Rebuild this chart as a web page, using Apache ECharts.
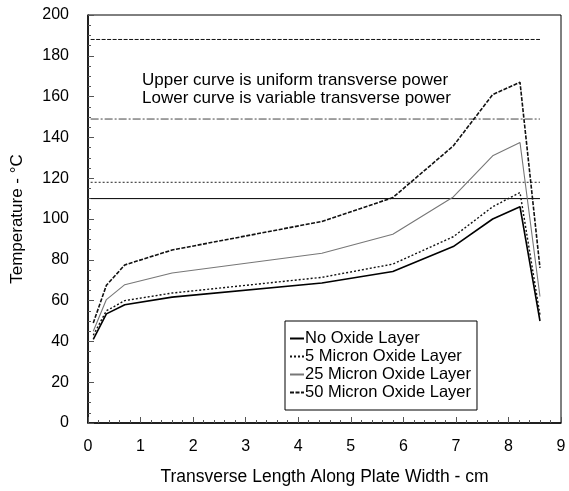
<!DOCTYPE html>
<html>
<head>
<meta charset="utf-8">
<script src="https://cdn.jsdelivr.net/npm/echarts@6/dist/echarts.min.js"></script>
<style>
html, body { margin: 0; padding: 0; background: #fff; }
#chart { width: 569px; height: 491px; }
</style>
</head>
<body>
<div id="chart"></div>
<script>
// positions along the plate width (cm)
var xPos = [0.1, 0.35, 0.7, 1.6, 4.45, 5.8, 6.95, 7.7, 8.22, 8.6];
// variable transverse power (lower curves)
var noOxide   = [41, 53.5, 58, 61.7, 68.6, 74.3, 86.5, 100, 106, 50];
var micron5   = [43, 55, 60, 63.7, 71.4, 77.9, 91.3, 106, 113, 53];
var micron25  = [45, 60.5, 67.8, 73.5, 83.2, 92.5, 110.8, 131, 137.5, 62];
var micron50  = [49, 67.5, 77.5, 84.8, 98.8, 110.5, 135.8, 161, 167, 76];
// uniform transverse power (upper, flat curves)
var uniformX  = [0.05, 8.6];
var uniformT  = [110, 118, 149, 188];
var seriesNames = ["No Oxide Layer", "5 Micron Oxide Layer", "25 Micron Oxide Layer", "50 Micron Oxide Layer"];
var xTicks = [0, 1, 2, 3, 4, 5, 6, 7, 8, 9];
var yTicks = [0, 20, 40, 60, 80, 100, 120, 140, 160, 180, 200];

var FONT = "Liberation Sans, Arial, sans-serif";

function pairs(xs, ys){
	var out = [];
	for(var i = 0; i < xs.length; i++){
		out.push([xs[i], ys[i]]);
	}
	return out;
}

// line looks for each layer: [color, width, type]
var looks = [
	["#000", 1.6, "solid"],
	["#111", 1.4, [2, 2]],
	["#777", 1.1, "solid"],
	["#111", 1.6, [4, 1.5]]
];
var flatLooks = [
	["#000", 1, "solid"],
	["#222", 1, [2, 2]],
	["#444", 1, [8, 2, 2, 2]],
	["#111", 1, [4, 1.5]]
];
var lowerData = [noOxide, micron5, micron25, micron50];

var series = [];
for(var i = 0; i < lowerData.length; i++){
	series.push({
		name: seriesNames[i],
		type: "line",
		symbol: "none",
		data: pairs(xPos, lowerData[i]),
		lineStyle: { color: looks[i][0], width: looks[i][1], type: looks[i][2] },
		itemStyle: { color: looks[i][0] },
		z: 3
	});
}
for(var j = 0; j < uniformT.length; j++){
	var fl = flatLooks[j];
	series.push({
		name: "uniform " + j,
		type: "line",
		symbol: "none",
		data: pairs(uniformX, [uniformT[j], uniformT[j]]),
		lineStyle: { color: fl[0], width: fl[1], type: fl[2] },
		z: 2
	});
}

var chart = echarts.init(document.getElementById("chart"));
chart.setOption({
	animation: false,
	backgroundColor: "#fff",
	grid: {
		left: 88, right: 8, top: 15, bottom: 65,
		show: true, borderColor: "#000", borderWidth: 1
	},
	xAxis: {
		type: "value",
		min: xTicks[0], max: xTicks[xTicks.length - 1], interval: 1,
		name: "Transverse Length Along Plate Width - cm",
		nameLocation: "middle", nameGap: 45,
		nameTextStyle: { fontFamily: FONT, fontSize: 17.5, color: "#000" },
		axisLine: { show: true, lineStyle: { color: "#000", width: 1.5 } },
		axisTick: { inside: true, length: 6, lineStyle: { color: "#555" } },
		minorTick: { show: true, splitNumber: 5, length: 3, lineStyle: { color: "#555" } },
		axisLabel: { fontFamily: FONT, fontSize: 16, color: "#000", margin: 16 },
		splitLine: { show: false }
	},
	yAxis: {
		type: "value",
		min: yTicks[0], max: yTicks[yTicks.length - 1], interval: 20,
		name: "Temperature - °C",
		nameLocation: "middle", nameGap: 62, nameRotate: 90,
		nameTextStyle: { fontFamily: FONT, fontSize: 17, color: "#000" },
		axisLine: { show: true, lineStyle: { color: "#000", width: 1.5 } },
		axisTick: { inside: true, length: 6, lineStyle: { color: "#555" } },
		minorTick: { show: true, splitNumber: 4, length: 3, lineStyle: { color: "#555" } },
		axisLabel: { fontFamily: FONT, fontSize: 16, color: "#000", margin: 19 },
		splitLine: { show: false }
	},
	legend: {
		data: seriesNames,
		orient: "vertical",
		left: 285, top: 321,
		padding: [9, 6, 9, 4],
		borderColor: "#000", borderWidth: 1,
		itemWidth: 14, itemHeight: 10, itemGap: 1,
		itemStyle: { color: "transparent", borderWidth: 0 },
		textStyle: { fontFamily: FONT, fontSize: 16.5, lineHeight: 16, color: "#000", padding: [0, 0, 0, -4] }
	},
	graphic: [
		{
			type: "text", left: 142, top: 71,
			style: {
				text: "Upper curve is uniform transverse power\nLower curve is variable transverse power",
				font: "17px " + FONT, fill: "#000", lineHeight: 18
			}
		}
	],
	series: series
});
</script>
</body>
</html>
